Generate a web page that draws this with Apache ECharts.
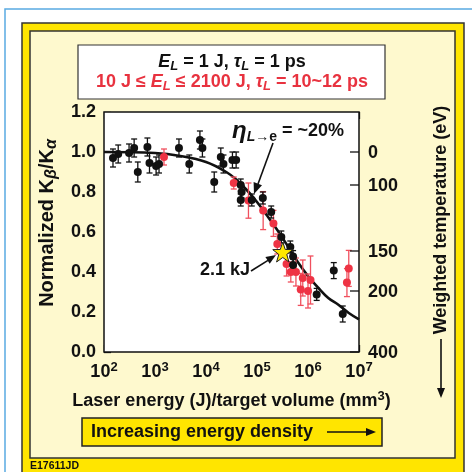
<!DOCTYPE html>
<html><head><meta charset="utf-8">
<script src="https://cdn.jsdelivr.net/npm/echarts@6/dist/echarts.min.js"></script>
<style>html,body{margin:0;padding:0;background:#fff}#c{width:472px;height:472px}</style>
</head><body><div id="c"></div>
<script>
// ---- data (x = laser energy / target volume, J/mm^3; y = normalized Kb/Ka) ----
const blackX = [150, 190, 310, 390, 460, 710, 780, 1050, 1200, 2950, 4700, 7600, 8500, 1.45e4, 1.95e4, 2.2e4, 3.3e4, 3.9e4, 4.8e4, 5.0e4, 4.8e4, 7.9e4, 1.3e5, 1.9e5, 3.0e5, 4.5e5, 5.1e5, 5.1e5, 1.48e6, 3.2e6, 4.8e6];
const blackY = [0.97, 0.99, 0.995, 1.02, 0.90, 1.025, 0.945, 0.93, 0.94, 1.02, 0.94, 1.06, 1.02, 0.85, 0.975, 0.94, 0.96, 0.96, 0.835, 0.80, 0.76, 0.76, 0.77, 0.70, 0.575, 0.525, 0.477, 0.435, 0.288, 0.407, 0.19];
const blackErr = [0.045, 0.045, 0.045, 0.045, 0.05, 0.045, 0.05, 0.045, 0.045, 0.045, 0.045, 0.045, 0.045, 0.05, 0.045, 0.045, 0.04, 0.04, 0.03, 0.03, 0.03, 0.03, 0.03, 0.03, 0.03, 0.03, 0.03, 0.03, 0.03, 0.04, 0.04];

const redX = [1500, 3.5e4, 6.8e4, 1.32e5, 2.1e5, 2.5e5, 3.8e5, 4.6e5, 5.8e5, 7.9e5, 1.12e6, 7.2e5, 1.0e6, 6.3e6, 5.8e6];
const redY = [0.975, 0.845, 0.757, 0.707, 0.643, 0.54, 0.44, 0.40, 0.40, 0.37, 0.36, 0.313, 0.305, 0.418, 0.347];
const redErr = [0.04, 0.03, 0.088, 0.095, 0.065, 0.05, 0.06, 0.05, 0.07, 0.09, 0.12, 0.08, 0.085, 0.09, 0.07];

const starX = [3.2e5];
const starY = [0.50];

const curveX = [100, 1000, 3160, 1e4, 2.5e4, 4e4, 6.3e4, 1e5, 1.6e5, 2.5e5, 4e5, 6.3e5, 1e6, 1.6e6, 2.5e6, 4e6, 6.3e6, 1e7];
const curveY = [1.0, 0.995, 0.98, 0.95, 0.90, 0.86, 0.81, 0.75, 0.68, 0.61, 0.53, 0.45, 0.38, 0.32, 0.27, 0.235, 0.195, 0.163];

// right axis: weighted temperature (eV) tick labels and their normalized positions
const tempLabels = ['0', '100', '150', '200', '400'];
const tempPos = [1.0, 0.835, 0.505, 0.305, 0.0];

const FONT = '"Liberation Sans", Arial, Helvetica, sans-serif';
const RED = '#EE3344';
const INK = '#111';

function zip(a, b) { return a.map((v, i) => [v, b[i]]); }
function bars(x, y, e) { return x.map((v, i) => [v, y[i] - e[i], y[i] + e[i]]); }

function errRender(color) {
  return function (params, api) {
    const x = api.value(0);
    const lo = api.coord([x, api.value(1)]);
    const hi = api.coord([x, api.value(2)]);
    const s = { stroke: color, lineWidth: 1.3 };
    return { type: 'group', children: [
      { type: 'line', shape: { x1: lo[0], y1: lo[1], x2: hi[0], y2: hi[1] }, style: s },
      { type: 'line', shape: { x1: hi[0] - 3, y1: hi[1], x2: hi[0] + 3, y2: hi[1] }, style: s },
      { type: 'line', shape: { x1: lo[0] - 3, y1: lo[1], x2: lo[0] + 3, y2: lo[1] }, style: s }
    ]};
  };
}

const chart = echarts.init(document.getElementById('c'), null, { renderer: 'canvas' });

const starPath = 'path://M0,-10L2.35,-3.24L9.51,-3.09L3.8,1.24L5.88,8.09L0,4L-5.88,8.09L-3.8,1.24L-9.51,-3.09L-2.35,-3.24Z';

const subRich = {
  n: { fontSize: 18, fontWeight: 'bold', fontFamily: FONT, lineHeight: 22 },
  i: { fontSize: 18, fontWeight: 'bold', fontStyle: 'italic', fontFamily: FONT, lineHeight: 22 },
  sub: { fontSize: 13, fontWeight: 'bold', fontStyle: 'italic', fontFamily: FONT, lineHeight: 22, verticalAlign: 'bottom' }
};
function richColored(color) {
  const r = {};
  for (const k in subRich) r[k] = Object.assign({ fill: color }, subRich[k]);
  return r;
}

const option = {
  animation: false,
  backgroundColor: '#fff',
  textStyle: { fontFamily: FONT },
  grid: { left: 104, right: 113, top: 112, bottom: 120, show: true, backgroundColor: '#fff', borderColor: INK, borderWidth: 1.5, z: 1 },
  xAxis: [{
    type: 'log', logBase: 10, min: 100, max: 1e7, splitNumber: 5,
    axisLine: { show: false },
    axisTick: { inside: true, length: 7, lineStyle: { color: INK, width: 1.3 } },
    splitLine: { show: false },
    axisLabel: {
      margin: 9, color: INK,
      formatter: v => '{b|10}{s|' + Math.round(Math.log10(v)) + '}',
      rich: {
        b: { fontSize: 18, fontWeight: 'bold', fontFamily: FONT, color: INK, lineHeight: 22 },
        s: { fontSize: 13, fontWeight: 'bold', fontFamily: FONT, color: INK, lineHeight: 22, verticalAlign: 'top' }
      }
    },
    name: '{a|Laser energy (J)/target volume (mm}{s|3}{a|)}',
    nameLocation: 'middle', nameGap: 38,
    nameTextStyle: {
      rich: {
        a: { fontSize: 18, fontWeight: 'bold', fontFamily: FONT, color: INK, lineHeight: 22 },
        s: { fontSize: 13, fontWeight: 'bold', fontFamily: FONT, color: INK, lineHeight: 22, verticalAlign: 'top' }
      }
    }
  }, {
    type: 'log', logBase: 10, min: 100, max: 1e7, splitNumber: 5, position: 'top',
    axisLine: { show: false },
    axisTick: { inside: true, length: 7, lineStyle: { color: INK, width: 1.3 } },
    axisLabel: { show: false }, splitLine: { show: false }
  }],
  yAxis: [{
    type: 'value', min: 0, max: 1.2, interval: 0.2,
    axisLine: { show: false },
    axisTick: { inside: true, length: 7, lineStyle: { color: INK, width: 1.3 } },
    splitLine: { show: false },
    axisLabel: { margin: 8, color: INK, fontSize: 18, fontWeight: 'bold', fontFamily: FONT, formatter: v => v.toFixed(1) },
    name: '{a|Normalized K}{s|β}{a|/K}{t|α}',
    nameLocation: 'middle', nameGap: 44, nameRotate: 90,
    nameTextStyle: {
      padding: [0, 0, 0, 18],
      rich: {
        a: { fontSize: 20, fontWeight: 'bold', fontFamily: FONT, color: INK, lineHeight: 26 },
        s: { fontSize: 16, fontWeight: 'bold', fontStyle: 'italic', fontFamily: FONT, color: INK, lineHeight: 26, verticalAlign: 'bottom' },
        t: { fontSize: 16, fontWeight: 'bold', fontStyle: 'italic', fontFamily: FONT, color: INK, lineHeight: 26, verticalAlign: 'bottom' }
      }
    }
  }],
  series: [
    { type: 'line', data: zip(curveX, curveY), smooth: 0.4, symbol: 'none', lineStyle: { color: INK, width: 2.6 }, z: 3, silent: true },
    { type: 'custom', data: bars(redX, redY, redErr), encode: { x: 0, y: [1, 2] }, renderItem: errRender('#F0505E'), z: 4 },
    { type: 'custom', data: bars(blackX, blackY, blackErr), encode: { x: 0, y: [1, 2] }, renderItem: errRender(INK), z: 4 },
    { type: 'scatter', data: zip(redX, redY), symbolSize: 8, itemStyle: { color: RED, opacity: 1 }, z: 5 },
    { type: 'scatter', data: zip(blackX, blackY), symbolSize: 8, itemStyle: { color: INK, opacity: 1 }, z: 5 },
    { type: 'scatter', data: zip(starX, starY), symbol: starPath, symbolSize: 20, itemStyle: { color: '#FFE800', borderColor: '#222', borderWidth: 1, opacity: 1 }, z: 6 },
    {
      type: 'custom', z: 6, clip: false,
      data: tempPos.map((p, i) => [1e7, p, i]),
      renderItem: function (params, api) {
        const p = api.coord([api.value(0), api.value(1)]);
        const idx = api.value(2);
        return { type: 'group', children: [
          { type: 'line', shape: { x1: p[0] - 9, y1: p[1], x2: p[0], y2: p[1] }, style: { stroke: INK, lineWidth: 1.3 } },
          { type: 'text', style: { text: tempLabels[idx], x: p[0] + 9, y: p[1] + 1, align: 'left', verticalAlign: 'middle', font: 'bold 18px ' + FONT, fill: INK } }
        ]};
      }
    }
  ],
  graphic: [
    // page frame
    { type: 'polyline', z: -100, shape: { points: [[5, 472], [5, 9], [472, 9]] }, style: { stroke: '#5AAAE2', lineWidth: 1.5, fill: null } },
    { type: 'rect', z: -99, shape: { x: 22, y: 23, width: 442, height: 470 }, style: { fill: '#FFE500', stroke: '#333', lineWidth: 1.5 } },
    { type: 'rect', z: -98, shape: { x: 30, y: 31, width: 425, height: 427 }, style: { fill: '#FEF9CE', stroke: '#333', lineWidth: 1.5 } },
    { type: 'text', z: 10, style: { text: 'E17611JD', x: 30, y: 466, align: 'left', verticalAlign: 'middle', font: 'bold 10.5px ' + FONT, fill: INK } },
    // legend box
    { type: 'rect', z: 10, shape: { x: 78, y: 45, width: 307, height: 54 }, style: { fill: '#fff', stroke: '#333', lineWidth: 1.2 } },
    { type: 'text', z: 11, style: { text: '{i|E}{sub|L}{n| = 1 J, }{i|τ}{sub|L}{n| = 1 ps}', x: 232, y: 62, align: 'center', verticalAlign: 'middle', rich: richColored(INK) } },
    { type: 'text', z: 11, style: { text: '{n|10 J ≤ }{i|E}{sub|L}{n| ≤ 2100 J, }{i|τ}{sub|L}{n| = 10~12 ps}', x: 232, y: 82, align: 'center', verticalAlign: 'middle', rich: richColored('#E8323F') } },
    // eta annotation
    { type: 'text', z: 11, style: { text: '{e|η}{sub|L}{s2|→e}{n| = ~20%}', x: 232, y: 131, align: 'left', verticalAlign: 'middle', rich: {
        e: { fontSize: 24, fontStyle: 'italic', fontWeight: 'bold', fontFamily: FONT, fill: INK, lineHeight: 26 },
        sub: { fontSize: 14, fontStyle: 'italic', fontWeight: 'bold', fontFamily: FONT, fill: INK, lineHeight: 26, verticalAlign: 'bottom' },
        s2: { fontSize: 14, fontWeight: 'bold', fontFamily: FONT, fill: INK, lineHeight: 26, verticalAlign: 'bottom' },
        n: { fontSize: 18, fontWeight: 'bold', fontFamily: FONT, fill: INK, lineHeight: 26 }
      } } },
    { type: 'line', z: 11, shape: { x1: 273, y1: 143, x2: 258, y2: 184 }, style: { stroke: INK, lineWidth: 1.6 } },
    { type: 'polygon', z: 11, shape: { points: [[254, 194], [262, 185.3], [253.6, 182.1]] }, style: { fill: INK } },
    // 2.1 kJ annotation
    { type: 'text', z: 11, style: { text: '2.1 kJ', x: 200, y: 270, align: 'left', verticalAlign: 'middle', font: 'bold 18px ' + FONT, fill: INK } },
    { type: 'line', z: 11, shape: { x1: 251, y1: 271, x2: 268, y2: 260.4 }, style: { stroke: INK, lineWidth: 1.6 } },
    { type: 'polygon', z: 11, shape: { points: [[276, 255], [269.7, 263.8], [265.4, 257.0]] }, style: { fill: INK } },
    // right axis title with arrow
    { type: 'text', z: 11, x: 441, y: 220, rotation: Math.PI / 2, style: { text: 'Weighted temperature (eV)', x: 0, y: 0, align: 'center', verticalAlign: 'middle', font: 'bold 18px ' + FONT, fill: INK } },
    { type: 'line', z: 11, shape: { x1: 441, y1: 339, x2: 441, y2: 390 }, style: { stroke: INK, lineWidth: 1.6 } },
    { type: 'polygon', z: 11, shape: { points: [[441, 398], [437, 388], [445, 388]] }, style: { fill: INK } },
    // bottom banner
    { type: 'rect', z: 10, shape: { x: 82, y: 418, width: 300, height: 28 }, style: { fill: '#FFE500', stroke: '#222', lineWidth: 1.5 } },
    { type: 'text', z: 11, style: { text: 'Increasing energy density', x: 91, y: 432, align: 'left', verticalAlign: 'middle', font: 'bold 18px ' + FONT, fill: INK } },
    { type: 'line', z: 11, shape: { x1: 327, y1: 432, x2: 368, y2: 432 }, style: { stroke: INK, lineWidth: 1.5 } },
    { type: 'polygon', z: 11, shape: { points: [[376, 432], [366, 428], [366, 436]] }, style: { fill: INK } }
  ]
};
chart.setOption(option);
</script>
</body></html>
